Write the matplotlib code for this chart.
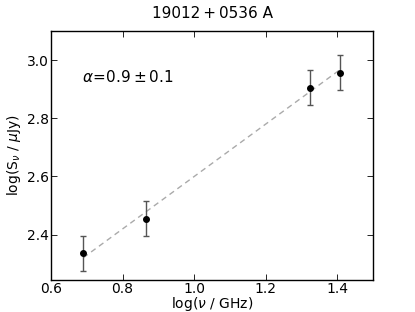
import matplotlib
matplotlib.use("Agg")
import matplotlib.pyplot as plt
import numpy as np

# measured points
log_nu = [0.69, 0.866, 1.323, 1.407]
log_s = [2.337, 2.455, 2.905, 2.957]
log_s_err = [0.06, 0.06, 0.06, 0.06]

# power-law fit
alpha = 0.9
alpha_err = 0.1
intercept = 1.70

plt.rcParams["font.size"] = 10
plt.rcParams["xtick.direction"] = "in"
plt.rcParams["ytick.direction"] = "in"
plt.rcParams["xtick.top"] = True
plt.rcParams["ytick.right"] = True
plt.rcParams["mathtext.fontset"] = "dejavusans"

fig = plt.figure(figsize=(4.15, 3.12), dpi=100)
ax = fig.add_axes([0.123, 0.103, 0.776, 0.798])

fx = np.array([log_nu[0], log_nu[-1]])
ax.plot(fx, intercept + alpha * fx, color="#aaaaaa", lw=1, dashes=(4, 3))
ax.errorbar(log_nu, log_s, yerr=log_s_err, fmt="o", color="black", ms=4,
            ecolor="#555555", elinewidth=1, capsize=2.5, capthick=1)

ax.text(0.097, 0.816, r"$\alpha\!=\!%.1f\pm%.1f$" % (alpha, alpha_err),
        transform=ax.transAxes, fontsize=11, va="center")

ax.set_xlim(0.6, 1.5)
ax.set_ylim(2.245, 3.1)
ax.set_xticks([0.6, 0.8, 1.0, 1.2, 1.4])
ax.set_yticks([2.4, 2.6, 2.8, 3.0])
ax.tick_params(length=4, width=0.6, labelsize=10, pad=1.5)
for s in ax.spines.values():
    s.set_linewidth(1)
ax.set_xlabel(r"log($\nu$ / GHz)", labelpad=-1)
ax.set_ylabel(r"log(S$_\nu$ / $\mu$Jy)", labelpad=3)
ax.set_title("19012\u2009+\u20090536 A", fontsize=11, pad=9)

fig.savefig("out.png", dpi=100)
